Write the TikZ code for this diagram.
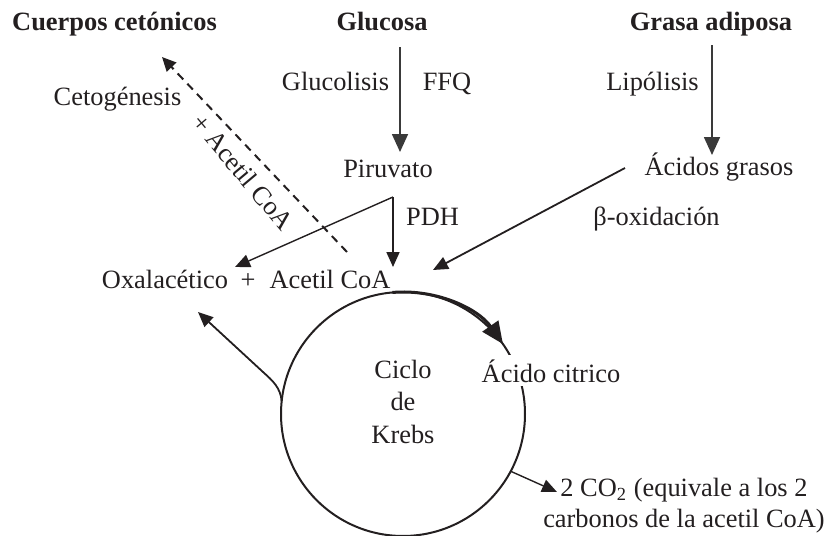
\documentclass[tikz,border=0pt]{standalone}
\usepackage{fontspec}
\setmainfont{Liberation Serif}
\usetikzlibrary{arrows.meta}
\definecolor{ink}{HTML}{231F20}
\definecolor{grayink}{HTML}{3A3A3A}
\begin{document}
\begin{tikzpicture}[x=0.5pt,y=-0.5pt,
  every node/.style={text=ink, font=\fontsize{13.2}{16}\selectfont, inner sep=0pt},
  lbl/.style={anchor=base},
  head/.style={anchor=base, font=\fontsize{13.2}{16}\selectfont\bfseries},
  flow/.style={draw=ink, line width=0.9pt, -{Triangle[length=7.5pt,width=6.5pt]}},
  thin flow/.style={draw=ink, line width=0.7pt, -{Triangle[length=7.5pt,width=6.5pt]}},
  feed/.style={draw=grayink, line width=0.85pt, -{Triangle[length=9pt,width=8pt]}},
  ketone/.style={draw=ink, line width=1pt, dash pattern=on 4pt off 3pt, -{Triangle[length=7pt,width=6.5pt]}},
  cycle/.style={circle, draw=ink, line width=1pt, minimum size=122pt, inner sep=0pt, outer sep=0pt},
  turn/.style={draw=ink, line width=1.5pt, -{Triangle[length=11pt,width=9.5pt]}}
]
\path[use as bounding box] (0,0) rectangle (827,536);

% sources
\node[head] (cuerpos) at (114.5,30) {Cuerpos cetónicos};
\node[head] (glucosa) at (382,30) {Glucosa};
\node[head] (grasa) at (711,30) {Grasa adiposa};

% pathway labels
\node[lbl] (glucolisis) at (335.5,90) {Glucolisis};
\node[lbl] (ffq) at (447,90) {FFQ};
\node[lbl] (lipolisis) at (652.5,90) {Lipólisis};
\node[lbl] (cetogenesis) at (117.5,105) {Cetogénesis};
\node[lbl] (piruvato) at (388,177) {Piruvato};
\node[lbl] (acidos) at (719,175) {Ácidos grasos};
\node[lbl] (pdh) at (432.5,225) {PDH};
\node[lbl] (betaox) at (656.5,225) {β-oxidación};
\node[lbl] (oxal) at (165,288) {Oxalacético};
\node[lbl] (plus) at (248,288) {+};
\node[lbl] (acetil) at (330,288) {Acetil CoA};
\node[rotate=-50] (acetilrot) at (243,172) {+ Acetil CoA};

% Krebs cycle
\node[cycle] (krebs) at (403,414) {};
\node[align=center, font=\fontsize{13.2}{16.25}\selectfont] (ciclo) at (403,401.5) {Ciclo\\de\\Krebs};
\draw[turn] (krebs.95) arc[start angle=95, end angle=35, radius=61pt];
\node[lbl, fill=white, inner sep=2pt] (citrico) at (551,382) {Ácido citrico};
\node[align=center, font=\fontsize{13.2}{15.5}\selectfont] (co2) at (684,506)
  {2 CO\textsubscript{2} (equivale a los 2\\carbonos de la acetil CoA)};

% connector end points
\coordinate (gluTop) at (400,47);
\coordinate (gluTip) at (400,152);
\coordinate (lipTop) at (712,45);
\coordinate (lipTip) at (712,155);
\coordinate (split) at (393,197);
\coordinate (oxalTip) at (235,267);
\coordinate (acetilTip) at (393,267);
\coordinate (fatStart) at (625,168);
\coordinate (fatTip) at (433,270);
\coordinate (dashStart) at (347,252);
\coordinate (ketTip) at (162,57);
\coordinate (bend) at (263,372);
\coordinate (oxalBack) at (198,312);
\coordinate (co2Tip) at (557,492);

% connectors
\draw[feed] (gluTop) -- (gluTip);
\draw[feed] (lipTop) -- (lipTip);
\draw[thin flow] (split) -- (oxalTip);
\draw[flow] (split) -- (acetilTip);
\draw[flow] (fatStart) -- (fatTip);
\draw[ketone] (dashStart) -- (ketTip);
\draw[flow] (krebs.174) to[out=95, in=-42] (bend) -- (oxalBack);
\draw[thin flow] (krebs.-28) -- (co2Tip);
\end{tikzpicture}
\end{document}
